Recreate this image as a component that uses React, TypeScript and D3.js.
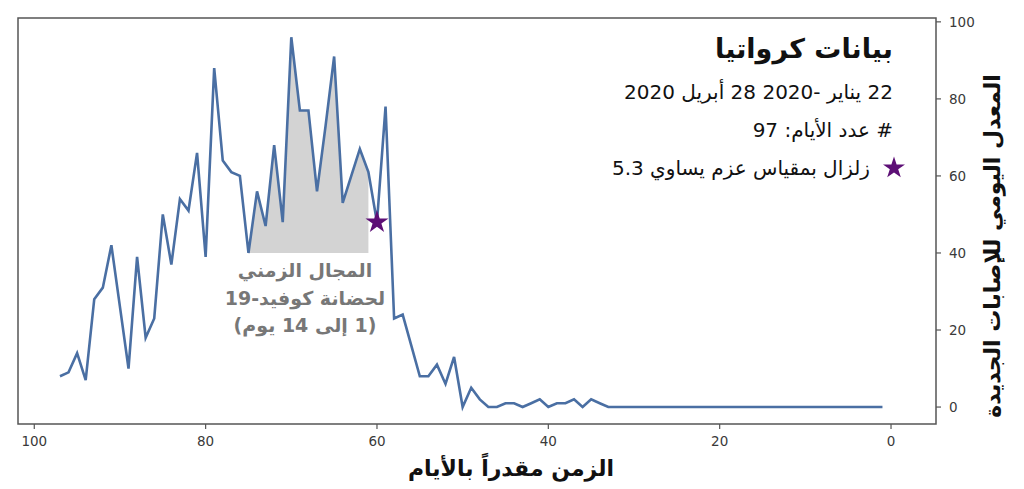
import React from "react";
import * as d3 from "d3";

// Daily new cases, from 97 days before the earthquake down to 1 day before
const cases = [
  8, 9, 14, 7, 28, 31, 42, 26, 10, 39, 18, 23, 50, 37, 54, 51, 66, 39, 88, 64,
  61, 60, 40, 56, 47, 68, 48, 96, 77, 77, 56, 73, 91, 53, 60, 67, 61, 48, 78, 23,
  24, 16, 8, 8, 11, 6, 13, 0, 5, 2, 0, 0, 1, 1, 0, 1, 2, 0, 1, 1,
  2, 0, 2, 1, 0, 0, 0, 0, 0, 0, 0, 0, 0, 0, 0, 0, 0, 0, 0, 0,
  0, 0, 0, 0, 0, 0, 0, 0, 0, 0, 0, 0, 0, 0, 0, 0, 0,
];
const days = cases.map((_, i) => cases.length - i);
const xTicks = [100, 80, 60, 40, 20, 0];
const yTicks = [0, 20, 40, 60, 80, 100];
const quakeDay = 60;
const incubationStart = 75;
const incubationEnd = 61;
const incubationBase = 40;

const title = "بيانات كرواتيا";
const subtitle = "22 يناير -2020 28 أبريل 2020";
const daysLine = "# عدد الأيام: 97";
const legendText = "زلزال بمقياس عزم يساوي 5.3";
const annotation = ["المجال الزمني", "لحضانة كوفيد-19", "(1 إلى 14 يوم)"];
const xLabel = "الزمن مقدراً بالأيام";
const yLabel = "المعدل اليومي للإصابات الجديدة";

const RLE = "\u202B";
const PDF = "\u202C";
const rtl = (s: string) => RLE + s + PDF;

export default function App() {
  const W = 1024, H = 489;
  const left = 18, right = 936, top = 18, bottom = 424;
  const x = d3.scaleLinear().domain([101.9, -5.25]).range([left, right]);
  const y = d3.scaleLinear().domain([-4.4, 101]).range([bottom, top]);

  const pts = days.map((d, i) => ({ d, v: cases[i] }));
  const line = d3.line<{ d: number; v: number }>().x((p) => x(p.d)).y((p) => y(p.v));
  const area = d3
    .area<{ d: number; v: number }>()
    .x((p) => x(p.d))
    .y0(() => y(incubationBase))
    .y1((p) => y(p.v));
  const fillPts = pts.filter((p) => p.d <= incubationStart && p.d >= incubationEnd);
  const quake = pts.find((p) => p.d === quakeDay)!;
  const star = d3.symbol().type(d3.symbolStar).size(165)();
  const starSmall = d3.symbol().type(d3.symbolStar).size(150)();

  const arabicFont = "'DejaVu Sans', sans-serif";
  const tickFont = "'DejaVu Sans', sans-serif";
  const spine = "#555";

  return (
    <svg width={W} height={H} style={{ position: "absolute", left: 0, top: 0, background: "#fff" }}>
      <rect x={0} y={0} width={W} height={H} fill="#fff" />
      {/* incubation fill */}
      <path d={area(fillPts) || ""} fill="#d3d3d3" stroke="none" />
      {/* line */}
      <path d={line(pts) || ""} fill="none" stroke="#4a6fa3" strokeWidth={2.6} strokeLinejoin="miter" />
      {/* earthquake star */}
      <path d={star || ""} transform={`translate(${x(quake.d)},${y(quake.v)})`} fill="#5d0f76" />

      {/* spines */}
      <rect x={left} y={top} width={right - left} height={bottom - top} fill="none" stroke={spine} strokeWidth={1.5} />

      {/* x ticks */}
      {xTicks.map((t) => (
        <g key={"x" + t}>
          <line x1={x(t)} x2={x(t)} y1={bottom} y2={bottom + 5} stroke={spine} strokeWidth={1.2} />
          <text x={x(t)} y={bottom + 22} textAnchor="middle" fontFamily={tickFont} fontSize={13.5} fill="#3a3a3a">
            {t}
          </text>
        </g>
      ))}
      {/* y ticks on right */}
      {yTicks.map((t) => (
        <g key={"y" + t}>
          <line x1={right} x2={right + 5} y1={y(t)} y2={y(t)} stroke={spine} strokeWidth={1.2} />
          <text x={right + 13} y={y(t)} dy="0.35em" textAnchor="start" fontFamily={tickFont} fontSize={13.5} fill="#3a3a3a">
            {t}
          </text>
        </g>
      ))}

      {/* axis labels */}
      <text x={511} y={476} textAnchor="middle" fontFamily={arabicFont} fontWeight="bold" fontSize={22} fill="#111">
        {rtl(xLabel)}
      </text>
      <text
        transform="translate(992,246) rotate(-90)"
        textAnchor="middle"
        dominantBaseline="central"
        fontFamily={arabicFont}
        fontWeight="bold"
        fontSize={22}
        fill="#111"
      >
        {rtl(yLabel)}
      </text>

      {/* annotation */}
      {annotation.map((s, i) => (
        <text
          key={"a" + i}
          x={305}
          y={277 + i * 27.5}
          textAnchor="middle"
          fontFamily={arabicFont}
          fontWeight="bold"
          fontSize={19}
          fill="#777"
        >
          {rtl(s)}
        </text>
      ))}

      {/* title block */}
      <text x={893} y={58} textAnchor="end" fontFamily={arabicFont} fontWeight="bold" fontSize={27} fill="#111">
        {rtl(title)}
      </text>
      <text x={893} y={99} textAnchor="end" fontFamily={arabicFont} fontSize={20} fill="#111">
        {rtl(subtitle)}
      </text>
      <text x={893} y={137} textAnchor="end" fontFamily={arabicFont} fontSize={20} fill="#111">
        {rtl(daysLine)}
      </text>
      <path d={starSmall || ""} transform="translate(894,168)" fill="#5d0f76" />
      <text x={870} y={175} textAnchor="end" fontFamily={arabicFont} fontSize={20} fill="#111">
        {rtl(legendText)}
      </text>
    </svg>
  );
}
